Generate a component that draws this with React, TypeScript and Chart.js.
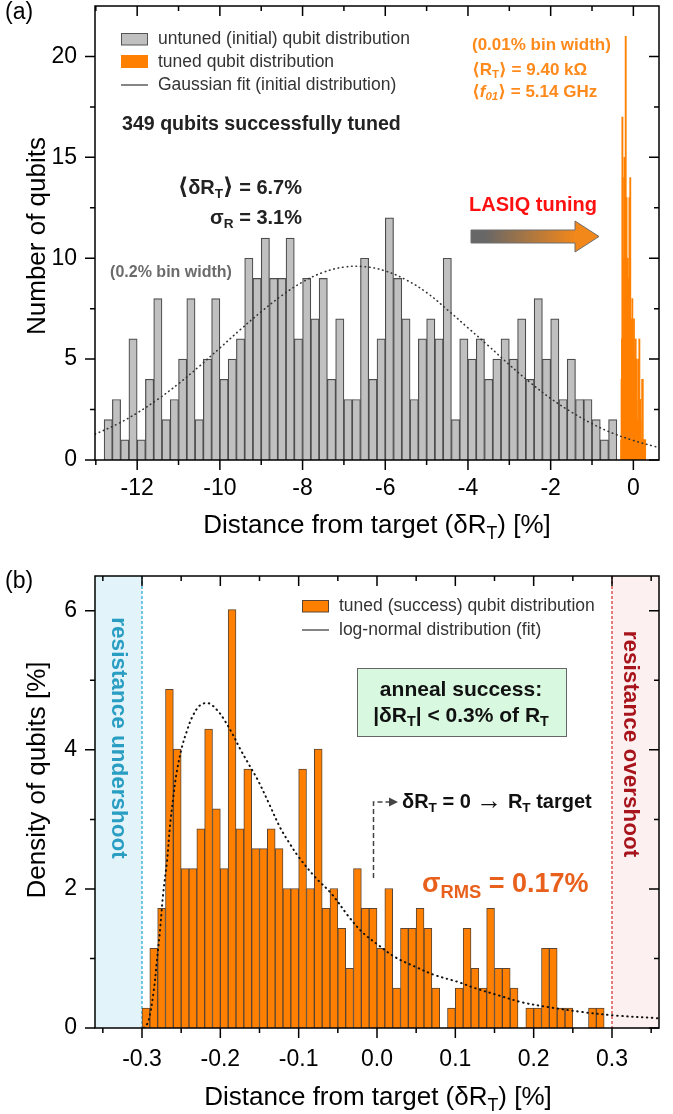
import { useEffect, useRef } from 'react';
import { Chart, registerables } from 'chart.js';
Chart.register(...registerables);

const FONT = 'Arial, "Liberation Sans", "DejaVu Sans", sans-serif';

// ---------- Panel (a): untuned (initial) distribution, 0.2% bins ----------
const untunedBinCenters = [
  -12.7, -12.5, -12.3, -12.1, -11.9, -11.7, -11.5, -11.3, -11.1, -10.9, -10.7, -10.5, -10.3, -10.1,
  -9.9, -9.7, -9.5, -9.3, -9.1, -8.9, -8.7, -8.5, -8.3, -8.1, -7.9, -7.7, -7.5, -7.3, -7.1,
  -6.9, -6.7, -6.5, -6.3, -6.1, -5.9, -5.7, -5.5, -5.3, -5.1, -4.9, -4.7, -4.5, -4.3, -4.1,
  -3.9, -3.7, -3.5, -3.3, -3.1, -2.9, -2.7, -2.5, -2.3, -2.1, -1.9, -1.7, -1.5, -1.3, -1.1,
  -0.9, -0.7, -0.5,
];
const untunedCounts = [
  2, 3, 1, 6, 1, 4, 8, 2, 3, 5, 8, 2, 5, 8, 4, 5, 6, 10, 9, 11, 9,
  9, 11, 6, 9, 7, 9, 4, 7, 3, 3, 10, 4, 6, 12, 9, 7, 3, 6, 7, 6, 10, 2,
  6, 5, 6, 4, 5, 6, 5, 7, 4, 8, 5, 7, 3, 5, 3, 3, 2, 1, 2,
];

// ---------- Tuned distribution, 0.01% bins (counts) ----------
const tunedBinCenters = [
  -0.295, -0.285, -0.275, -0.265, -0.255, -0.245, -0.235, -0.225, -0.215, -0.205,
  -0.195, -0.185, -0.175, -0.165, -0.155, -0.145, -0.135, -0.125, -0.115, -0.105,
  -0.095, -0.085, -0.075, -0.065, -0.055, -0.045, -0.035, -0.025, -0.015, -0.005,
  0.005, 0.015, 0.025, 0.035, 0.045, 0.055, 0.065, 0.075, 0.085, 0.095,
  0.105, 0.115, 0.125, 0.135, 0.145, 0.155, 0.165, 0.175, 0.185, 0.195,
  0.205, 0.215, 0.225, 0.235, 0.245, 0.255, 0.265, 0.275, 0.285,
];
const tunedCounts = [
  1, 4, 6, 17, 14, 8, 8, 10, 15, 11, 8, 21, 10, 13, 9, 9, 10, 9, 7, 7,
  13, 7, 14, 6, 7, 5, 3, 8, 6, 6, 4, 7, 2, 5, 5, 6, 5, 2, 0, 1,
  2, 5, 3, 2, 6, 3, 3, 2, 0, 1, 1, 4, 4, 1, 1, 0, 0, 1, 1,
];

// ---------- Fit curves ----------
const gaussFitX = [
  -13.02, -12.5, -12, -11.5, -11, -10.5, -10, -9.5, -9, -8.5, -8, -7.5, -7, -6.5,
  -6, -5.5, -5, -4.5, -4, -3.5, -3, -2.5, -2, -1.5, -1, -0.5, 0, 0.5, 0.62,
];
const gaussFitY = [
  1.28, 1.76, 2.33, 3.01, 3.78, 4.64, 5.55, 6.47, 7.35, 8.15, 8.82, 9.3, 9.56, 9.58,
  9.37, 8.93, 8.3, 7.45, 6.55, 5.65, 4.72, 3.85, 3.05, 2.38, 1.8, 1.33, 0.97, 0.68, 0.62,
];
const logNormX = [
  -0.298, -0.292, -0.285, -0.281, -0.277, -0.273, -0.268, -0.264, -0.26, -0.256, -0.249,
  -0.243, -0.236, -0.226, -0.215, -0.204, -0.196, -0.185, -0.175, -0.164, -0.151, -0.138,
  -0.124, -0.113, -0.1, -0.079, -0.058, -0.036, -0.019, 0.002, 0.023, 0.049, 0.074,
  0.104, 0.126, 0.155, 0.185, 0.219, 0.262, 0.304, 0.36,
];
const logNormY = [
  0.0, 0.09, 0.54, 0.97, 1.41, 1.93, 2.41, 2.94, 3.32, 3.66, 4.04,
  4.26, 4.47, 4.64, 4.67, 4.57, 4.45, 4.24, 4.02, 3.8, 3.54, 3.23,
  2.89, 2.68, 2.46, 2.17, 1.93, 1.6, 1.38, 1.19, 1.02, 0.88, 0.76,
  0.66, 0.57, 0.47, 0.37, 0.3, 0.23, 0.18, 0.14,
];

// ---------- Ticks ----------
const xTicksA = [-12, -10, -8, -6, -4, -2, 0];
const xTickLabelsA = ['-12', '-10', '-8', '-6', '-4', '-2', '0'];
const xMinorA = [-13, -11, -9, -7, -5, -3, -1];
const yTicksA = [0, 5, 10, 15, 20];
const yTickLabelsA = ['0', '5', '10', '15', '20'];
const yMinorA = [2.5, 7.5, 12.5, 17.5];

const xTicksB = [-0.3, -0.2, -0.1, 0, 0.1, 0.2, 0.3];
const xTickLabelsB = ['-0.3', '-0.2', '-0.1', '0.0', '0.1', '0.2', '0.3'];
const xMinorB = [-0.35, -0.25, -0.15, -0.05, 0.05, 0.15, 0.25, 0.35];
const yTicksB = [0, 2, 4, 6];
const yTickLabelsB = ['0', '2', '4', '6'];
const yMinorB = [1, 3, 5];

const successLimit = 0.3;

// ---------- Layout ----------
const W = 673;
const HA = 545;
const HB = 569;
const PLOT_L = 95;
const PLOT_R = 659;
const A_TOP = 6;
const A_BOTTOM = 460;
const B_TOP = 31;
const B_BOTTOM = 483;
const A_XMIN = -13.02;
const A_XMAX = 0.62;
const B_XMIN = -0.36;
const B_XMAX = 0.36;
const pxPerUnitA = (PLOT_R - PLOT_L) / (A_XMAX - A_XMIN);
const pxPerUnitB = (PLOT_R - PLOT_L) / (B_XMAX - B_XMIN);

type Seg = { t: string; sub?: boolean; italic?: boolean; scale?: number };

function drawRich(
  ctx: CanvasRenderingContext2D,
  segs: Seg[],
  x: number,
  y: number,
  o: { size: number; weight?: string; color: string; align?: 'left' | 'center' | 'right' }
) {
  const w = o.weight || 'normal';
  const fontFor = (s: Seg) => {
    const sz = o.size * (s.scale || 1) * (s.sub ? 0.68 : 1);
    return `${s.italic ? 'italic ' : ''}${w} ${sz}px ${FONT}`;
  };
  let total = 0;
  const widths = segs.map((s) => {
    ctx.font = fontFor(s);
    const m = ctx.measureText(s.t).width;
    total += m;
    return m;
  });
  let cx = o.align === 'center' ? x - total / 2 : o.align === 'right' ? x - total : x;
  ctx.fillStyle = o.color;
  ctx.textBaseline = 'middle';
  ctx.textAlign = 'left';
  segs.forEach((s, i) => {
    ctx.font = fontFor(s);
    ctx.fillText(s.t, cx, y + (s.sub ? o.size * 0.3 : 0));
    cx += widths[i];
  });
}

function drawFrameTicks(chart: any, xMaj: number[], xMin: number[], yMaj: number[], yMin: number[]) {
  const { ctx, chartArea: a, scales } = chart;
  const x = scales.x;
  const y = scales.y;
  ctx.save();
  ctx.strokeStyle = '#000';
  ctx.lineWidth = 1.5;
  ctx.strokeRect(a.left, a.top, a.right - a.left, a.bottom - a.top);
  ctx.beginPath();
  const xt = (arr: number[], len: number) =>
    arr.forEach((v) => {
      const p = x.getPixelForValue(v);
      ctx.moveTo(p, a.bottom);
      ctx.lineTo(p, a.bottom + len);
      ctx.moveTo(p, a.top);
      ctx.lineTo(p, a.top + len);
    });
  const yt = (arr: number[], len: number) =>
    arr.forEach((v) => {
      const p = y.getPixelForValue(v);
      ctx.moveTo(a.left, p);
      ctx.lineTo(a.left - len, p);
      ctx.moveTo(a.right, p);
      ctx.lineTo(a.right - len, p);
    });
  xt(xMaj, 10);
  xt(xMin, 5);
  yt(yMaj, 10);
  yt(yMin, 5);
  ctx.stroke();
  ctx.restore();
}

function axisBase(min: number, max: number, ticks: number[], labels: string[], pad: number, fit: (s: any) => void) {
  return {
    type: 'linear' as const,
    min,
    max,
    offset: false,
    grid: { display: false, drawTicks: false, offset: false },
    border: { display: false },
    afterBuildTicks: (s: any) => {
      s.ticks = ticks.map((v) => ({ value: v }));
    },
    ticks: {
      padding: pad,
      color: '#000',
      autoSkip: false,
      maxRotation: 0,
      font: { size: 23, family: FONT },
      callback: (_v: any, i: number) => labels[i],
    },
    afterFit: (s: any) => {
      fit(s);
      s.paddingTop = 0;
      s.paddingBottom = 0;
      s.paddingLeft = 0;
      s.paddingRight = 0;
    },
  };
}

export default function App() {
  const refA = useRef<HTMLCanvasElement>(null);
  const refB = useRef<HTMLCanvasElement>(null);

  useEffect(() => {
    Chart.defaults.font.family = FONT;
    const total = tunedCounts.reduce((s, v) => s + v, 0);
    const tunedDensity = tunedCounts.map((c) => (c * 100) / total);

    const pluginA = {
      id: 'decorA',
      afterDraw(chart: any) {
        const ctx = chart.ctx as CanvasRenderingContext2D;
        drawFrameTicks(chart, xTicksA, xMinorA, yTicksA, yMinorA);
        ctx.save();
        drawRich(ctx, [{ t: '(a)' }], 5, 13, { size: 23, color: '#000' });
        drawRich(ctx, [{ t: 'Distance from target (δR' }, { t: 'T', sub: true }, { t: ') [%]' }], 377, 526, {
          size: 26,
          color: '#000',
          align: 'center',
        });
        ctx.save();
        ctx.translate(38, 236);
        ctx.rotate(-Math.PI / 2);
        drawRich(ctx, [{ t: 'Number of qubits' }], 0, 0, { size: 26, color: '#000', align: 'center' });
        ctx.restore();
        // legend
        ctx.fillStyle = '#c0c0c0';
        ctx.fillRect(121, 33, 27, 12);
        ctx.strokeStyle = '#555';
        ctx.lineWidth = 1;
        ctx.strokeRect(121.5, 33.5, 26, 11.5);
        ctx.fillStyle = '#ff8000';
        ctx.fillRect(121, 55, 27, 13);
        ctx.beginPath();
        ctx.strokeStyle = '#333';
        ctx.lineWidth = 1.2;
        ctx.moveTo(121, 85);
        ctx.lineTo(148, 85);
        ctx.stroke();
        const lg = { size: 17.5, color: '#333' };
        drawRich(ctx, [{ t: 'untuned (initial) qubit distribution' }], 158, 39.5, lg);
        drawRich(ctx, [{ t: 'tuned qubit distribution' }], 158, 62, lg);
        drawRich(ctx, [{ t: 'Gaussian fit (initial distribution)' }], 158, 85, lg);
        // annotations
        drawRich(ctx, [{ t: '349 qubits successfully tuned' }], 122, 125, { size: 19.6, weight: 'bold', color: '#222' });
        drawRich(ctx, [{ t: '⟨', scale: 1.15 }, { t: 'δR' }, { t: 'T', sub: true }, { t: '⟩', scale: 1.15 }, { t: ' = 6.7%' }], 302, 188, {
          size: 20,
          weight: 'bold',
          color: '#222',
          align: 'right',
        });
        drawRich(ctx, [{ t: 'σ' }, { t: 'R', sub: true }, { t: ' = 3.1%' }], 302, 218, {
          size: 20,
          weight: 'bold',
          color: '#222',
          align: 'right',
        });
        drawRich(ctx, [{ t: '(0.2% bin width)' }], 171, 273, { size: 16, weight: 'bold', color: '#6b6b6b', align: 'center' });
        drawRich(ctx, [{ t: 'LASIQ tuning' }], 533, 205, { size: 20, weight: 'bold', color: '#ff1010', align: 'center' });
        const og = { size: 17, weight: 'bold', color: '#ff8a1c' };
        drawRich(ctx, [{ t: '(0.01% bin width)' }], 472, 45, og);
        drawRich(ctx, [{ t: '⟨' }, { t: 'R' }, { t: 'T', sub: true }, { t: '⟩' }, { t: ' = 9.40 kΩ' }], 472, 70, og);
        drawRich(ctx, [{ t: '⟨' }, { t: 'f', italic: true }, { t: '01', sub: true, italic: true }, { t: '⟩' }, { t: ' = 5.14 GHz' }], 472, 92, og);
        // gradient arrow
        const g = ctx.createLinearGradient(485, 0, 575, 0);
        g.addColorStop(0, '#676767');
        g.addColorStop(1, '#f2871a');
        ctx.beginPath();
        ctx.moveTo(471, 230);
        ctx.lineTo(575, 230);
        ctx.lineTo(575, 221);
        ctx.lineTo(599, 236.5);
        ctx.lineTo(575, 252);
        ctx.lineTo(575, 243);
        ctx.lineTo(471, 243);
        ctx.closePath();
        ctx.fillStyle = g;
        ctx.fill();
        ctx.strokeStyle = '#6e6e6e';
        ctx.lineWidth = 1;
        ctx.stroke();
        ctx.restore();
      },
    };

    const chartA = new Chart(refA.current as HTMLCanvasElement, {
      type: 'bar',
      data: {
        datasets: [
          {
            type: 'line',
            data: gaussFitX.map((x, i) => ({ x, y: gaussFitY[i] })),
            borderColor: '#333',
            borderWidth: 1.6,
            borderDash: [0.5, 4],
            borderCapStyle: 'round',
            pointRadius: 0,
            tension: 0.4,
            fill: false,
            order: 0,
          } as any,
          {
            type: 'bar',
            data: tunedBinCenters.map((x, i) => ({ x, y: tunedCounts[i] })),
            backgroundColor: '#ff8000',
            borderWidth: 0,
            barThickness: 1.2,
            grouped: false,
            order: 1,
          } as any,
          {
            type: 'bar',
            data: untunedBinCenters.map((x, i) => ({ x, y: untunedCounts[i] })),
            backgroundColor: '#c0c0c0',
            borderColor: '#4d4d4d',
            borderWidth: 1.2,
            barThickness: 0.2 * pxPerUnitA,
            grouped: false,
            order: 2,
          } as any,
        ],
      },
      options: {
        animation: false,
        responsive: false,
        events: [],
        layout: { padding: { left: 0, right: W - PLOT_R, top: A_TOP, bottom: 0 } },
        plugins: { legend: { display: false }, tooltip: { enabled: false } },
        scales: {
          x: axisBase(A_XMIN, A_XMAX, xTicksA, xTickLabelsA, 15, (s: any) => {
            s.height = HA - A_BOTTOM;
          }),
          y: axisBase(0, 22.5, yTicksA, yTickLabelsA, 18, (s: any) => {
            s.width = PLOT_L;
          }),
        } as any,
      },
      plugins: [pluginA],
    });

    const pluginB = {
      id: 'decorB',
      beforeDatasetsDraw(chart: any) {
        const { ctx, chartArea: a, scales } = chart;
        const x = scales.x;
        const xl = x.getPixelForValue(-successLimit);
        const xr = x.getPixelForValue(successLimit);
        ctx.save();
        ctx.fillStyle = '#e2f4fa';
        ctx.fillRect(a.left, a.top, xl - a.left, a.bottom - a.top);
        ctx.fillStyle = '#fdf0f0';
        ctx.fillRect(xr, a.top, a.right - xr, a.bottom - a.top);
        ctx.lineWidth = 1.2;
        ctx.setLineDash([3, 2]);
        ctx.strokeStyle = '#22a6d4';
        ctx.beginPath();
        ctx.moveTo(xl, a.top);
        ctx.lineTo(xl, a.bottom);
        ctx.stroke();
        ctx.strokeStyle = '#d42a2a';
        ctx.beginPath();
        ctx.moveTo(xr, a.top);
        ctx.lineTo(xr, a.bottom);
        ctx.stroke();
        ctx.restore();
      },
      afterDraw(chart: any) {
        const ctx = chart.ctx as CanvasRenderingContext2D;
        drawFrameTicks(chart, xTicksB, xMinorB, yTicksB, yMinorB);
        ctx.save();
        drawRich(ctx, [{ t: '(b)' }], 5, 37, { size: 23, color: '#000' });
        drawRich(ctx, [{ t: 'Distance from target (δR' }, { t: 'T', sub: true }, { t: ') [%]' }], 378, 553, {
          size: 26,
          color: '#000',
          align: 'center',
        });
        ctx.save();
        ctx.translate(38, 235);
        ctx.rotate(-Math.PI / 2);
        drawRich(ctx, [{ t: 'Density of qubits [%]' }], 0, 0, { size: 26, color: '#000', align: 'center' });
        ctx.restore();
        // legend
        ctx.fillStyle = '#ff8000';
        ctx.fillRect(302, 55, 27, 12);
        ctx.strokeStyle = '#5c4633';
        ctx.lineWidth = 1;
        ctx.strokeRect(302.5, 55.5, 26, 11.5);
        ctx.beginPath();
        ctx.strokeStyle = '#333';
        ctx.lineWidth = 1.2;
        ctx.moveTo(302, 85);
        ctx.lineTo(329, 85);
        ctx.stroke();
        const lg = { size: 17.5, color: '#333' };
        drawRich(ctx, [{ t: 'tuned (success) qubit distribution' }], 339, 61, lg);
        drawRich(ctx, [{ t: 'log-normal distribution (fit)' }], 339, 85, lg);
        // green box
        ctx.fillStyle = '#d8f8df';
        ctx.fillRect(357, 123, 210, 69);
        ctx.strokeStyle = '#666';
        ctx.lineWidth = 1;
        ctx.strokeRect(357.5, 123.5, 209, 68);
        drawRich(ctx, [{ t: 'anneal success:' }], 461, 145, { size: 21, weight: 'bold', color: '#111', align: 'center' });
        drawRich(ctx, [{ t: '|δR' }, { t: 'T', sub: true }, { t: '| < 0.3% of R' }, { t: 'T', sub: true }], 461, 171, {
          size: 21,
          weight: 'bold',
          color: '#111',
          align: 'center',
        });
        // target arrow
        ctx.strokeStyle = '#444';
        ctx.lineWidth = 1.5;
        ctx.setLineDash([5, 3]);
        ctx.beginPath();
        ctx.moveTo(373.5, 333);
        ctx.lineTo(373.5, 257);
        ctx.lineTo(391, 257);
        ctx.stroke();
        ctx.setLineDash([]);
        ctx.fillStyle = '#444';
        ctx.beginPath();
        ctx.moveTo(398, 257);
        ctx.lineTo(389, 252.5);
        ctx.lineTo(389, 261.5);
        ctx.closePath();
        ctx.fill();
        drawRich(ctx, [{ t: 'δR' }, { t: 'T', sub: true }, { t: ' = 0 ' }, { t: '→', scale: 1.3 }, { t: ' R' }, { t: 'T', sub: true }, { t: ' target' }], 402, 257, {
          size: 20,
          weight: 'bold',
          color: '#111',
        });
        drawRich(ctx, [{ t: 'σ' }, { t: 'RMS', sub: true }, { t: ' = 0.17%' }], 422, 340, {
          size: 27,
          weight: 'bold',
          color: '#e8601c',
        });
        // rotated region labels
        ctx.save();
        ctx.translate(118, 193);
        ctx.rotate(Math.PI / 2);
        drawRich(ctx, [{ t: 'resistance undershoot' }], 0, 0, { size: 22.5, weight: 'bold', color: '#2a9ec2', align: 'center' });
        ctx.restore();
        ctx.save();
        ctx.translate(630, 199);
        ctx.rotate(Math.PI / 2);
        drawRich(ctx, [{ t: 'resistance overshoot' }], 0, 0, { size: 22.5, weight: 'bold', color: '#a8141c', align: 'center' });
        ctx.restore();
        ctx.restore();
      },
    };

    const chartB = new Chart(refB.current as HTMLCanvasElement, {
      type: 'bar',
      data: {
        datasets: [
          {
            type: 'line',
            data: logNormX.map((x, i) => ({ x, y: logNormY[i] })),
            borderColor: '#111',
            borderWidth: 2,
            borderDash: [0.5, 4.5],
            borderCapStyle: 'round',
            pointRadius: 0,
            tension: 0.35,
            fill: false,
            order: 0,
          } as any,
          {
            type: 'bar',
            data: tunedBinCenters.map((x, i) => ({ x, y: tunedDensity[i] })),
            backgroundColor: '#ff8000',
            borderColor: '#5c4633',
            borderWidth: 1,
            barThickness: 0.01 * pxPerUnitB,
            grouped: false,
            order: 1,
          } as any,
        ],
      },
      options: {
        animation: false,
        responsive: false,
        events: [],
        layout: { padding: { left: 0, right: W - PLOT_R, top: B_TOP, bottom: 0 } },
        plugins: { legend: { display: false }, tooltip: { enabled: false } },
        scales: {
          x: axisBase(B_XMIN, B_XMAX, xTicksB, xTickLabelsB, 18, (s: any) => {
            s.height = HB - B_BOTTOM;
          }),
          y: axisBase(0, 6.5, yTicksB, yTickLabelsB, 18, (s: any) => {
            s.width = PLOT_L;
          }),
        } as any,
      },
      plugins: [pluginB],
    });

    return () => {
      chartA.destroy();
      chartB.destroy();
    };
  }, []);

  return (
    <div style={{ position: 'absolute', left: 0, top: 0, width: W, height: HA + HB, background: '#fff' }}>
      <canvas ref={refA} width={W} height={HA} style={{ position: 'absolute', left: 0, top: 0, width: W, height: HA }} />
      <canvas ref={refB} width={W} height={HB} style={{ position: 'absolute', left: 0, top: HA, width: W, height: HB }} />
    </div>
  );
}
